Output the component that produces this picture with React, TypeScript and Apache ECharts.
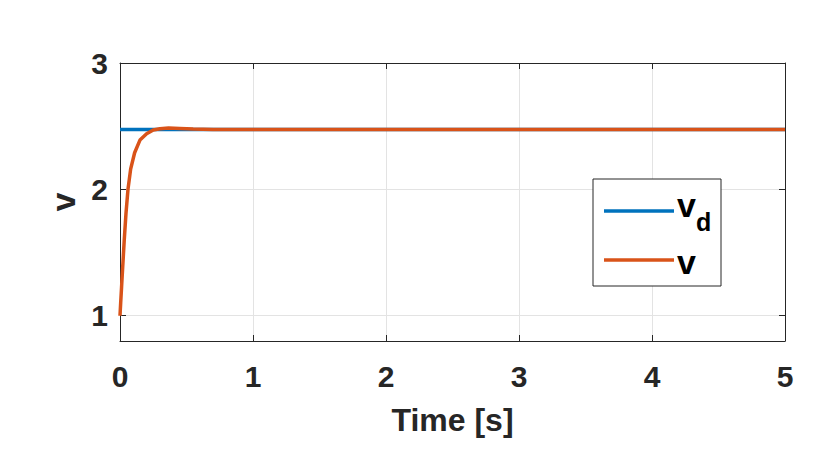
import React, { useEffect, useRef } from "react";
import * as echarts from "echarts";

const timeV = [0, 0.005, 0.012, 0.02, 0.032, 0.045, 0.06, 0.08, 0.11, 0.15, 0.2, 0.25, 0.3, 0.365, 0.45, 0.55, 0.7, 1, 5];
const vValues = [1, 1.1, 1.23, 1.38, 1.6, 1.81, 2.0, 2.16, 2.29, 2.39, 2.44, 2.47, 2.48, 2.485, 2.482, 2.477, 2.474, 2.474, 2.474];
const timeVd = [0, 5];
const vdValues = [2.474, 2.474];
const xTicks = [0, 1, 2, 3, 4, 5];
const yTicks = [1, 2, 3];

const BLUE = "#0072BD";
const ORANGE = "#D95319";
const DARK = "#262626";
const GRID = "#e3e3e3";
const FONT = "'Liberation Sans', Arial, Helvetica, sans-serif";

export default function App() {
  const ref = useRef<HTMLDivElement>(null);
  useEffect(() => {
    if (!ref.current) return;
    const chart = echarts.init(ref.current, undefined, { renderer: "svg" });
    const tickStyle = { inside: true, length: 6, lineStyle: { color: DARK, width: 1 } };
    const option = {
      animation: false,
      backgroundColor: "#ffffff",
      grid: { left: 120, right: 45, top: 63, bottom: 129, containLabel: false },
      xAxis: [
        {
          type: "value",
          min: 0,
          max: 5,
          interval: 1,
          axisLine: { show: true, onZero: false, lineStyle: { color: DARK, width: 1 } },
          axisTick: { ...tickStyle, customValues: xTicks },
          axisLabel: {
            customValues: xTicks,
            color: DARK,
            fontFamily: FONT,
            fontWeight: "bold",
            fontSize: 30,
            margin: 20,
          },
          splitLine: { show: true, lineStyle: { color: GRID, width: 1 } },
          name: "Time [s]",
          nameLocation: "middle",
          nameGap: 63,
          nameTextStyle: { color: DARK, fontFamily: FONT, fontWeight: "bold", fontSize: 32 },
        },
        {
          type: "value",
          position: "top",
          min: 0,
          max: 5,
          interval: 1,
          axisLine: { show: true, onZero: false, lineStyle: { color: DARK, width: 1 } },
          axisTick: { ...tickStyle, customValues: xTicks },
          axisLabel: { show: false },
          splitLine: { show: false },
        },
      ],
      yAxis: [
        {
          type: "value",
          min: 0.8,
          max: 3,
          axisLine: { show: true, onZero: false, lineStyle: { color: DARK, width: 1 } },
          axisTick: { ...tickStyle, customValues: yTicks },
          axisLabel: {
            customValues: yTicks,
            color: DARK,
            fontFamily: FONT,
            fontWeight: "bold",
            fontSize: 30,
            margin: 12,
          },
          splitLine: { show: true, lineStyle: { color: GRID, width: 1 } },
          name: "v",
          nameLocation: "middle",
          nameRotate: 90,
          nameGap: 40,
          nameTextStyle: { color: DARK, fontFamily: FONT, fontWeight: "bold", fontSize: 34 },
        },
        {
          type: "value",
          position: "right",
          min: 0.8,
          max: 3,
          axisLine: { show: true, onZero: false, lineStyle: { color: DARK, width: 1 } },
          axisTick: { ...tickStyle, customValues: yTicks },
          axisLabel: { show: false },
          splitLine: { show: false },
        },
      ],
      series: [
        {
          name: "vd",
          type: "line",
          data: timeVd.map((t, i) => [t, vdValues[i]]),
          showSymbol: false,
          lineStyle: { color: BLUE, width: 3.5 },
          itemStyle: { color: BLUE },
        },
        {
          name: "v",
          type: "line",
          data: timeV.map((t, i) => [t, vValues[i]]),
          showSymbol: false,
          lineStyle: { color: ORANGE, width: 3.5 },
          itemStyle: { color: ORANGE },
        },
      ],
      graphic: [
        {
          type: "rect",
          shape: { x: 593, y: 179, width: 128, height: 107 },
          style: { fill: "#ffffff", stroke: DARK, lineWidth: 1 },
          z: 100,
        },
        {
          type: "line",
          shape: { x1: 604, y1: 211, x2: 674, y2: 211 },
          style: { stroke: BLUE, lineWidth: 3.5 },
          z: 101,
        },
        {
          type: "line",
          shape: { x1: 604, y1: 260, x2: 674, y2: 260 },
          style: { stroke: ORANGE, lineWidth: 3.5 },
          z: 101,
        },
        {
          type: "text",
          x: 677,
          y: 205,
          style: { text: "v", fill: "#000", font: `bold 34px ${FONT}`, verticalAlign: "middle", align: "left" },
          z: 101,
        },
        {
          type: "text",
          x: 696,
          y: 222,
          style: { text: "d", fill: "#000", font: `bold 25px ${FONT}`, verticalAlign: "middle", align: "left" },
          z: 101,
        },
        {
          type: "text",
          x: 677,
          y: 262,
          style: { text: "v", fill: "#000", font: `bold 34px ${FONT}`, verticalAlign: "middle", align: "left" },
          z: 101,
        },
      ],
    };
    chart.setOption(option as any);
    return () => chart.dispose();
  }, []);
  return <div ref={ref} style={{ position: "fixed", left: 0, top: 0, width: 830, height: 470 }} />;
}
